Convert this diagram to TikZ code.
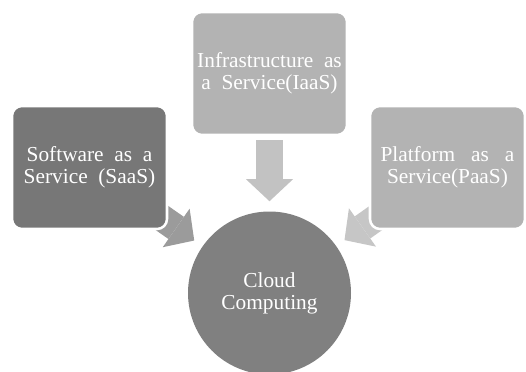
\documentclass[tikz,border=0pt]{standalone}
\usepackage{fontspec}
\setmainfont{Liberation Serif}
\usetikzlibrary{arrows.meta,backgrounds}
\definecolor{saasgray}{HTML}{777777}
\definecolor{boxgray}{HTML}{B3B3B3}
\definecolor{cloudgray}{HTML}{808080}
\definecolor{leftgray}{HTML}{9B9B9B}
\definecolor{downgray}{HTML}{C2C2C2}
\definecolor{rightgray}{HTML}{C6C6C6}

\begin{document}
\begin{tikzpicture}[x=0.75pt,y=-0.75pt,
  box/.style={rectangle,rounded corners=7.5pt,draw=white,line width=1.9pt,text=white,
    minimum width=116.25pt,minimum height=92.25pt,align=center,
    font=\fontsize{16}{16.5}\selectfont},
  blockarrow/.style={line width=20.25pt,
    -{Triangle[length=16.5pt,width=35.25pt,line width=0pt]},shorten >=7.5pt}]
\useasboundingbox (0,0) rectangle (526,372);

\coordinate (S) at (89.5,167.5);
\coordinate (I) at (269.5,73.5);
\coordinate (P) at (447.5,167.5);
\coordinate (C) at (269.5,293);

\node[box,fill=saasgray] (S1) at (S) {Software\ \ as\ \ a\\Service\ \ (SaaS)};
\node[box,fill=boxgray] (I1) at (I) {Infrastructure\ \ as\\a\ \ Service(IaaS)};
\node[box,fill=boxgray] (P1) at (P) {Platform\ \ \ as\ \ \ a\\Service(PaaS)};
\node[circle,fill=cloudgray,text=white,inner sep=0pt,minimum size=122.25pt,align=center,
  font=\fontsize{16}{16.5}\selectfont] (C1) at (C) {Cloud\\Computing};

\begin{scope}[on background layer]
\draw[blockarrow,leftgray] (S1.center) -- (C1);
\draw[blockarrow,downgray,shorten <=3pt] (I1) -- (C1);
\draw[blockarrow,rightgray] (P1.center) -- (C1);
\end{scope}

\end{tikzpicture}
\end{document}
